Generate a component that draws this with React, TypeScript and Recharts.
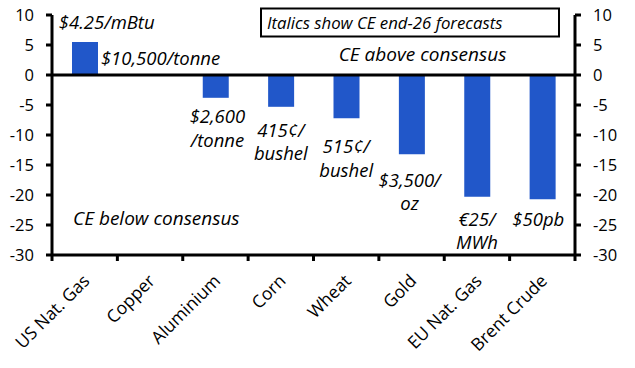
import React from 'react';
import { BarChart, Bar, XAxis, YAxis, ReferenceLine, ReferenceDot } from 'recharts';

const categories = ['US Nat. Gas', 'Copper', 'Aluminium', 'Corn', 'Wheat', 'Gold', 'EU Nat. Gas', 'Brent Crude'];
const deviation = [5.5, 0, -3.8, -5.3, -7.2, -13.2, -20.3, -20.7];
const forecastLabels = [
  ['$4.25/mBtu'],
  ['$10,500/tonne'],
  ['$2,600', '/tonne'],
  ['415¢/', 'bushel'],
  ['515¢/', 'bushel'],
  ['$3,500/', 'oz'],
  ['€25/', 'MWh'],
  ['$50pb'],
];
const yTicks = [10, 5, 0, -5, -10, -15, -20, -25, -30];
const boxNote = 'Italics show CE end-26 forecasts';
const aboveNote = 'CE above consensus';
const belowNote = 'CE below consensus';

// layout of the forecast labels relative to bar ends (pixels)
const labelLayout = [
  { dx: 22, dy: -13.4 },
  { dx: 10.5, dy: -10 },
  { dx: 2, dy: 25.3 },
  { dx: 0, dy: 30 },
  { dx: 0, dy: 35 },
  { dx: -2, dy: 32.7 },
  { dx: 0, dy: 29 },
  { dx: -4, dy: 26.7 },
];
const lineGap = 23.5;
const FONT = '"Open Sans", sans-serif';
const BLUE = '#2157C9';

const data = categories.map((c, i) => ({ name: c, value: deviation[i] }));

const ForecastLabel = ({ cx, cy, index }: any) => {
  if (cx == null || cy == null) return null;
  const lines = forecastLabels[index];
  const lay = labelLayout[index];
  const tx = cx + lay.dx;
  const base = cy + lay.dy;
  return (
    <text x={tx} y={base} textAnchor="middle" fontStyle="italic" fontSize={18.5} fill="#000" fontFamily={FONT}>
      {lines.map((l, k) => (
        <tspan key={k} x={tx} y={base + k * lineGap}>{l}</tspan>
      ))}
    </text>
  );
};

const XTick = (props: any) => {
  const { x, y, payload, index } = props;
  const half = payload && typeof payload.offset === 'number' && payload.offset > 0 ? payload.offset : 32.7;
  const tx = x + 6;
  const ty = y + 27;
  return (
    <g>
      <line x1={x - half} x2={x - half} y1={y} y2={y + 6} stroke="#000" strokeWidth={3} />
      {index === categories.length - 1 && (
        <line x1={x + half} x2={x + half} y1={y} y2={y + 6} stroke="#000" strokeWidth={3} />
      )}
      <text x={tx} y={ty} transform={`rotate(-45, ${tx}, ${ty})`} textAnchor="end" fontSize={17.5} fill="#000" fontFamily={FONT}>
        {payload.value}
      </text>
    </g>
  );
};

export default function App() {
  return (
    <div style={{ position: 'absolute', left: 0, top: 0, width: 635, height: 368, fontFamily: FONT, background: '#fff' }}>
      <BarChart width={635} height={368} data={data} margin={{ top: 15, right: 0, bottom: 0, left: 0 }} barSize={26}>
        <XAxis
          dataKey="name"
          height={113}
          tickSize={0}
          tickMargin={0}
          interval={0}
          axisLine={{ stroke: '#000', strokeWidth: 3 }}
          tickLine={false}
          tick={<XTick />}
        />
        <YAxis
          yAxisId="l"
          type="number"
          domain={[-30, 10]}
          ticks={yTicks}
          width={52}
          interval={0}
          allowDataOverflow
          axisLine={{ stroke: '#000', strokeWidth: 3 }}
          tickLine={{ stroke: '#000', strokeWidth: 3 }}
          tickSize={6}
          tickMargin={12}
          tick={{ fill: '#000', fontSize: 16.5, fontFamily: FONT }}
        />
        <YAxis
          yAxisId="r"
          orientation="right"
          type="number"
          domain={[-30, 10]}
          ticks={yTicks}
          width={60}
          interval={0}
          allowDataOverflow
          axisLine={{ stroke: '#000', strokeWidth: 3 }}
          tickLine={{ stroke: '#000', strokeWidth: 3 }}
          tickSize={6}
          tickMargin={12}
          tick={{ fill: '#000', fontSize: 16.5, fontFamily: FONT }}
        />
        <Bar yAxisId="l" dataKey="value" fill={BLUE} isAnimationActive={false} />
        <ReferenceLine yAxisId="l" y={0} stroke="#000" strokeWidth={3} />
        {categories.map((c, i) => (
          <ReferenceDot
            key={c}
            yAxisId="l"
            x={c}
            y={deviation[i]}
            r={1}
            ifOverflow="visible"
            shape={(p: any) => <ForecastLabel cx={p.cx} cy={p.cy} index={i} />}
          />
        ))}
      </BarChart>
      <svg width={635} height={368} style={{ position: 'absolute', left: 0, top: 0, pointerEvents: 'none' }}>
        <rect x={261} y={8.5} width={298} height={28} fill="#fff" stroke="#000" strokeWidth={2} />
        <text x={267} y={29} fontSize={16.8} fontStyle="italic" fill="#000" fontFamily={FONT}>{boxNote}</text>
        <text x={422.5} y={61} fontSize={19} fontStyle="italic" fill="#000" textAnchor="middle" fontFamily={FONT}>{aboveNote}</text>
        <text x={73} y={225} fontSize={19} fontStyle="italic" fill="#000" fontFamily={FONT}>{belowNote}</text>
      </svg>
    </div>
  );
}
